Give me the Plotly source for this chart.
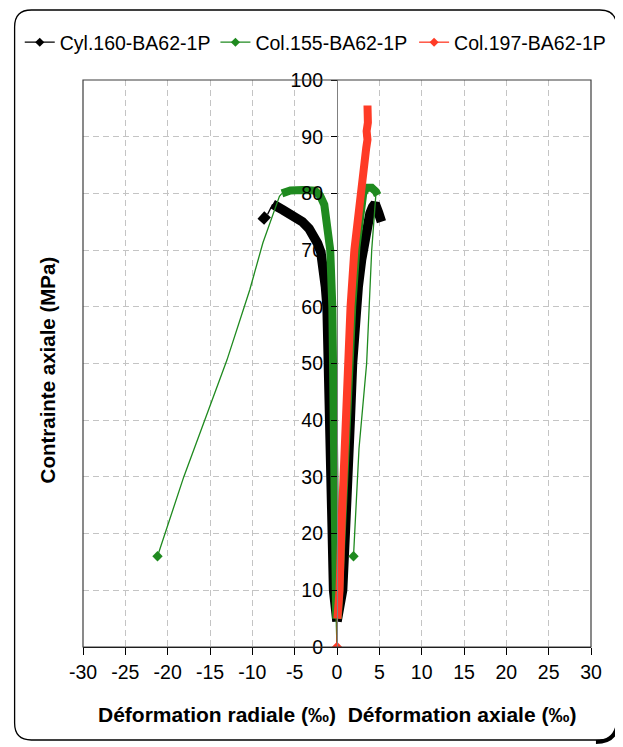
import plotly.graph_objects as go

# ---------------- data ----------------
# Cyl.160-BA62-1P : radial (negative) and axial (positive) branches
cyl160_rad_x = [0.0, -0.4, -0.55, -0.65, -0.75, -0.85, -0.97, -1.17, -1.36, -1.55, -1.9, -2.3, -2.8, -3.3, -4.1, -4.9, -5.7, -6.4, -7.0, -7.6]
cyl160_rad_y = [4.5, 10, 20, 30, 40, 50.6, 55.3, 60, 63.5, 67.7, 69.6, 71.2, 72.6, 73.8, 75.0, 75.9, 76.5, 77.1, 77.6, 78.1]
cyl160_rad_tail_x = [-8.2, -9.0]
cyl160_rad_tail_y = [76.3, 75.0]
cyl160_ax_x = [0.0, 0.35, 0.66, 0.97, 1.36, 1.56, 1.83, 2.1, 2.5, 2.9, 3.3, 3.6, 3.9, 4.2, 4.5, 4.9, 5.25]
cyl160_ax_y = [4.5, 8, 10, 20, 30, 40, 50, 58.9, 63.5, 68.3, 72.4, 74.8, 76.5, 77.6, 78.2, 76.6, 75.0]

# Col.155-BA62-1P
col155_rad_x = [-0.1, -0.2, -0.3, -0.35, -0.45, -0.55, -0.8, -1.1, -1.5, -2.0, -2.6, -4.0, -5.5, -6.5]
col155_rad_y = [5, 20, 35, 45, 52, 60, 70, 75, 78, 79.6, 80.5, 80.6, 80.5, 80.0]
col155_rad_tail_x = [-6.5, -6.8, -8.75, -10.3, -13.0, -15.6, -18.1, -21.2]
col155_rad_tail_y = [80.0, 79.5, 71.3, 63.0, 50.6, 40.0, 30.0, 16.0]
col155_ax_x = [0.1, 0.5, 0.9, 1.3, 1.8, 2.3, 2.7, 3.1, 3.5, 4.1, 4.6, 4.8]
col155_ax_y = [5, 20, 35, 50, 60, 70.6, 75.3, 80, 81, 81, 80.3, 79.7]
col155_ax_tail_x = [4.6, 4.1, 3.5, 2.6, 1.95]
col155_ax_tail_y = [80.0, 70.0, 50.0, 35.0, 16.0]

# Col.197-BA62-1P (axial only)
col197_ax_x = [0.05, 0.3, 0.5, 0.75, 0.9, 1.2, 1.6, 2.05, 2.7, 3.1, 3.45, 3.6, 3.5, 3.65, 3.55, 3.6]
col197_ax_y = [5, 10, 20, 30, 40, 50, 60, 70, 80, 85, 88, 89.5, 91, 92.5, 94, 95.5]

origin_x = [0.0]
origin_y = [0.0]

series_names = ["Cyl.160-BA62-1P", "Col.155-BA62-1P", "Col.197-BA62-1P"]
series_colors = ["#000000", "#1f8a1f", "#ff3b26"]

x_ticks = [-30, -25, -20, -15, -10, -5, 0, 5, 10, 15, 20, 25, 30]
y_ticks = [0, 10, 20, 30, 40, 50, 60, 70, 80, 90, 100]

# ---------------- geometry ----------------
# the page body adds an 8px offset, so the figure is laid out 8px up/left
OFF = 8
W, H = 623 - OFF, 747 - OFF
PL, PT, PR, PB = 78, 80, 592, 647          # plot area in reference pixels
L, T = PL - OFF, PT - OFF
PW, PH = PR - PL, PB - PT
R = W - L - PW
B = H - T - PH


def pp(px, py):
    """reference pixel -> paper coordinates"""
    return ((px - PL) / PW, (PB - py) / PH)


fig = go.Figure()

legend_ids = ["legend", "legend2", "legend3"]
legend_left_px = [14, 212, 413]

# legend-only entries (one small legend per series so nothing wraps)
for name, col, lid in zip(series_names, series_colors, legend_ids):
    fig.add_trace(go.Scatter(x=[None], y=[None], name=name, mode="lines+markers",
                             line=dict(color=col, width=1.3), legend=lid,
                             marker=dict(symbol="diamond", size=7, color=col)))


def thin(x, y, col):
    fig.add_trace(go.Scatter(x=x, y=y, mode="lines", showlegend=False, hoverinfo="skip",
                             line=dict(color=col, width=1.3)))


def thick(x, y, col, w):
    fig.add_trace(go.Scatter(x=x, y=y, mode="lines", showlegend=False,
                             line=dict(color=col, width=w)))


def ends(x, y, col):
    fig.add_trace(go.Scatter(x=x, y=y, mode="markers", showlegend=False,
                             marker=dict(symbol="diamond", size=8, color=col)))


# Cyl.160
c = series_colors[0]
thin(origin_x + [cyl160_rad_x[0]], origin_y + [cyl160_rad_y[0]], c)
thin([cyl160_rad_x[-1], cyl160_rad_tail_x[0]], [cyl160_rad_y[-1], cyl160_rad_tail_y[0]], c)
thick(cyl160_rad_x, cyl160_rad_y, c, 9.5)
thick(cyl160_rad_tail_x, cyl160_rad_tail_y, c, 9)
thick(cyl160_ax_x, cyl160_ax_y, c, 9.5)

# Col.155
c = series_colors[1]
thin(origin_x + [col155_rad_x[0]], origin_y + [col155_rad_y[0]], c)
thin(col155_rad_tail_x, col155_rad_tail_y, c)
thin(col155_ax_tail_x, col155_ax_tail_y, c)
thick(col155_rad_x, col155_rad_y, c, 8)
thick(col155_ax_x, col155_ax_y, c, 8)
ends([col155_rad_tail_x[-1], col155_ax_tail_x[-1]], [col155_rad_tail_y[-1], col155_ax_tail_y[-1]], c)

# Col.197
c = series_colors[2]
thin(origin_x + [col197_ax_x[0]], origin_y + [col197_ax_y[0]], c)
thick(col197_ax_x, col197_ax_y, c, 8)
ends(origin_x, origin_y, c)


# ---------------- decorations ----------------
def P(a, b):
    u, v = pp(a, b)
    return f"{u:.5f},{v:.5f}"


def rounded_path(x0, y0, x1, y1, r):
    return (f"M {P(x0 + r, y0)} L {P(x1 - r, y0)} Q {P(x1, y0)} {P(x1, y0 + r)} "
            f"L {P(x1, y1 - r)} Q {P(x1, y1)} {P(x1 - r, y1)} L {P(x0 + r, y1)} "
            f"Q {P(x0, y1)} {P(x0, y1 - r)} L {P(x0, y0 + r)} Q {P(x0, y0)} {P(x0 + r, y0)} Z")


def corner_path():
    return f"M {P(619.5, 718)} Q {P(619.5, 742)} {P(597, 742)}"


shapes = [
    dict(type="path", xref="paper", yref="paper", path=rounded_path(8.8, 10, 618, 740, 17),
         line=dict(color="#000000", width=1.3), fillcolor="white", layer="below"),
    dict(type="path", xref="paper", yref="paper", path=corner_path(),
         line=dict(color="#000000", width=4), layer="above"),
    dict(type="rect", xref="paper", yref="paper", x0=0, y0=0, x1=1, y1=1,
         line=dict(color="#3c3c3c", width=1.2), layer="above"),
]

font_family = "Liberation Sans, Arial, sans-serif"
TF = 19.5


def legend_cfg(px):
    return dict(orientation="h", x=pp(px, 0)[0], xanchor="left", y=pp(0, 23)[1], yanchor="top",
                font=dict(size=TF, family=font_family), bgcolor="rgba(0,0,0,0)",
                itemwidth=30, tracegroupgap=0)


fig.update_layout(
    width=W, height=H,
    margin=dict(l=L, r=R, t=T, b=B, pad=0),
    paper_bgcolor="white",
    plot_bgcolor="rgba(0,0,0,0)",
    font=dict(family=font_family, size=TF, color="#000000"),
    shapes=shapes,
    showlegend=True,
    legend=legend_cfg(legend_left_px[0]),
    legend2=legend_cfg(legend_left_px[1]),
    legend3=legend_cfg(legend_left_px[2]),
    xaxis=dict(range=[-30, 30], tickvals=x_ticks, ticktext=[str(v) for v in x_ticks],
               showgrid=True, gridcolor="#c4c4c4", griddash="6px,4px", gridwidth=1,
               zeroline=False, showline=True, linecolor="#000000", linewidth=1.2,
               ticks="outside", ticklen=7, tickcolor="#000000", tickwidth=1,
               tickfont=dict(size=TF), fixedrange=True),
    yaxis=dict(range=[0, 100], tickvals=y_ticks, ticktext=[str(v) for v in y_ticks],
               anchor="free", position=0.5,
               showgrid=True, gridcolor="#c4c4c4", griddash="6px,4px", gridwidth=1,
               zeroline=False, showline=True, linecolor="#808080", linewidth=1.2,
               ticks="outside", ticklen=6, tickcolor="#000000", tickwidth=1,
               ticklabelstandoff=4, tickfont=dict(size=TF), fixedrange=True),
    annotations=[
        dict(text="<b>Contrainte axiale (MPa)</b>", xref="paper", yref="paper",
             x=pp(42, 0)[0], y=pp(0, 370)[1], textangle=-90, showarrow=False,
             font=dict(size=20.5), xanchor="center", yanchor="middle"),
        dict(text="<b>Déformation radiale (‰)  Déformation axiale (‰)</b>", xref="paper", yref="paper",
             x=pp(335, 0)[0], y=pp(0, 714)[1], showarrow=False,
             font=dict(size=21), xanchor="center", yanchor="middle"),
    ],
)

fig.write_html("out.html")
